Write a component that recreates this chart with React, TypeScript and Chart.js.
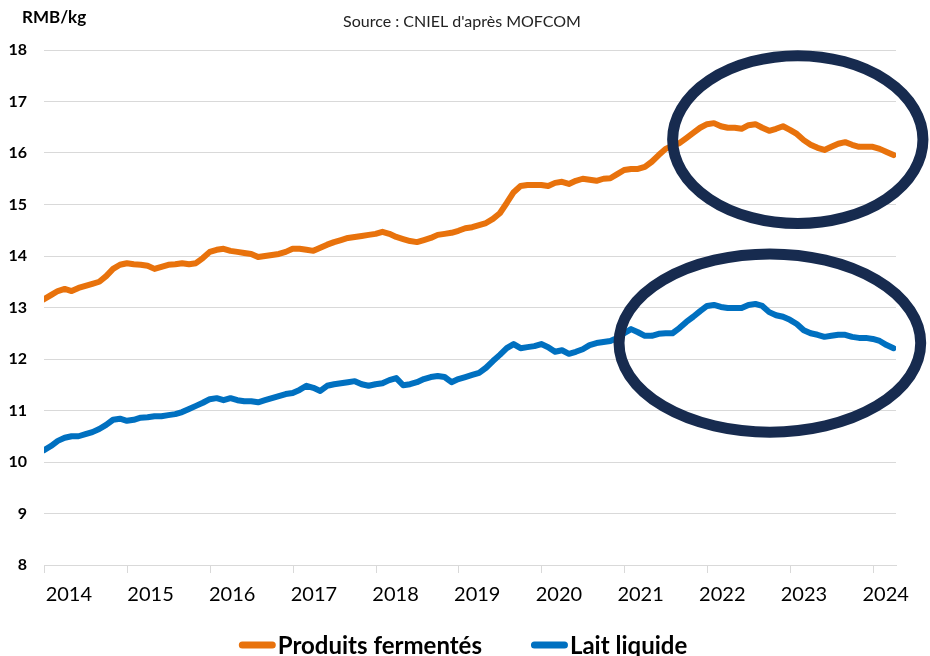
import React, { useEffect, useRef } from "react";
import { Chart, registerables } from "chart.js";

Chart.register(...registerables);

// ---- data (monthly readings, Jan 2014 .. Apr 2024) ----
const START_YEAR = 2014;
const YEAR_LABELS = ["2014", "2015", "2016", "2017", "2018", "2019", "2020", "2021", "2022", "2023", "2024"];

const PRODUITS_FERMENTES = [
  13.16, 13.24, 13.32, 13.36, 13.32, 13.38, 13.42, 13.46, 13.5, 13.61, 13.75, 13.83,
  13.86, 13.84, 13.83, 13.81, 13.75, 13.79, 13.83, 13.84, 13.86, 13.84, 13.86, 13.96,
  14.08, 14.12, 14.14, 14.1, 14.08, 14.06, 14.04, 13.98, 14.0, 14.02, 14.04, 14.08,
  14.14, 14.14, 14.12, 14.1, 14.16, 14.22, 14.27, 14.31, 14.35, 14.37, 14.39, 14.41,
  14.43, 14.47, 14.43, 14.37, 14.33, 14.29, 14.27, 14.31, 14.35, 14.41, 14.43, 14.45,
  14.49, 14.54, 14.56, 14.6, 14.64, 14.72, 14.83, 15.03, 15.24, 15.36, 15.38, 15.38,
  15.38, 15.36, 15.42, 15.44, 15.4, 15.46, 15.5, 15.48, 15.46, 15.5, 15.51, 15.59,
  15.67, 15.69, 15.69, 15.73, 15.83, 15.96, 16.08, 16.14, 16.19, 16.29, 16.39, 16.49,
  16.56, 16.58, 16.52, 16.49, 16.49, 16.47, 16.54, 16.56, 16.49, 16.43, 16.47, 16.52,
  16.45, 16.37, 16.25, 16.16, 16.1, 16.06, 16.12, 16.18, 16.21, 16.16, 16.12, 16.12,
  16.12, 16.08, 16.02, 15.96,
];

const LAIT_LIQUIDE = [
  10.23, 10.31, 10.41, 10.47, 10.5, 10.5, 10.54, 10.58, 10.64, 10.72, 10.82, 10.84,
  10.8, 10.82, 10.86, 10.87, 10.89, 10.89, 10.91, 10.93, 10.97, 11.03, 11.09, 11.15,
  11.22, 11.24, 11.2, 11.24, 11.2, 11.18, 11.18, 11.16, 11.2, 11.24, 11.28, 11.32,
  11.34, 11.4, 11.48, 11.44, 11.38, 11.48, 11.51, 11.53, 11.55, 11.57, 11.51, 11.48,
  11.51, 11.53, 11.59, 11.63, 11.49, 11.51, 11.55, 11.61, 11.65, 11.67, 11.65, 11.55,
  11.61, 11.65, 11.69, 11.73, 11.83, 11.96, 12.08, 12.21, 12.29, 12.21, 12.23, 12.25,
  12.29, 12.23, 12.14, 12.17, 12.1, 12.14, 12.19, 12.27, 12.31, 12.33, 12.35, 12.41,
  12.5, 12.58, 12.52, 12.45, 12.45, 12.49, 12.5, 12.5, 12.6, 12.72, 12.82, 12.93,
  13.03, 13.05, 13.01, 12.99, 12.99, 12.99, 13.05, 13.07, 13.03, 12.91, 12.85, 12.82,
  12.76, 12.68, 12.56, 12.5, 12.47, 12.43, 12.45, 12.47, 12.47, 12.43, 12.41, 12.41,
  12.39, 12.35, 12.27, 12.21,
];

// highlight ellipses in data units: [centerYear, centerValue, radiusYears, radiusValue]
const ELLIPSE_TOP = [2023.095, 16.26, 1.51, 1.63];
const ELLIPSE_BOTTOM = [2022.758, 12.31, 1.82, 1.73];

const SERIES_NAMES = ["Produits fermentés", "Lait liquide"];
const SOURCE_TEXT = "Source : CNIEL d'après MOFCOM";
const UNIT_TEXT = "RMB/kg";

const ORANGE = "#E8720C";
const BLUE = "#0070C0";
const NAVY = "#172B4F";
const GRID = "#d9d9d9";
const FONT = "Lato, 'Open Sans', sans-serif";

const toPoints = (arr: number[]) => arr.map((v, i) => ({ x: START_YEAR + i / 12, y: v }));

const decorPlugin = {
  id: "decor",
  afterDraw(chart: any) {
    const { ctx, chartArea, scales } = chart;
    const xs = scales.x;
    const ys = scales.y;
    ctx.save();
    // x-axis tick marks at each year boundary
    ctx.strokeStyle = GRID;
    ctx.lineWidth = 1;
    YEAR_LABELS.forEach((_, k) => {
      const px = Math.round(xs.getPixelForValue(START_YEAR + k)) + 0.5;
      ctx.beginPath();
      ctx.moveTo(px, chartArea.bottom);
      ctx.lineTo(px, chartArea.bottom + 8);
      ctx.stroke();
    });
    // highlight ellipses
    ctx.strokeStyle = NAVY;
    ctx.lineWidth = 11;
    [ELLIPSE_TOP, ELLIPSE_BOTTOM].forEach(([cx, cy, rx, ry]) => {
      const pcx = xs.getPixelForValue(cx);
      const pcy = ys.getPixelForValue(cy);
      const prx = Math.abs(xs.getPixelForValue(cx + rx) - pcx);
      const pry = Math.abs(ys.getPixelForValue(cy + ry) - pcy);
      ctx.beginPath();
      ctx.ellipse(pcx, pcy, prx, pry, 0, 0, Math.PI * 2);
      ctx.stroke();
    });
    // unit + source texts
    ctx.fillStyle = "#000";
    ctx.textBaseline = "middle";
    ctx.textAlign = "left";
    ctx.font = `bold 17px ${FONT}`;
    ctx.fillText(UNIT_TEXT, 22, 18);
    ctx.font = `16px ${FONT}`;
    ctx.fillStyle = "#222";
    ctx.textAlign = "center";
    ctx.fillText(SOURCE_TEXT, 462, 22);

    // legend (line sample + bold label, centred under the chart)
    const boxW = 37, boxH = 7, gap = 2, itemGap = 49, legendY = 645, centerX = 463;
    ctx.font = `bold 24px ${FONT}`;
    const items = chart.data.datasets.map((d: any) => ({
      color: d.borderColor,
      text: d.label,
      w: ctx.measureText(d.label).width,
    }));
    const total = items.reduce((s: number, it: any) => s + boxW + gap + it.w, 0) + itemGap * (items.length - 1);
    let x = centerX - total / 2;
    ctx.textAlign = "left";
    ctx.textBaseline = "middle";
    items.forEach((it: any) => {
      ctx.fillStyle = it.color;
      ctx.beginPath();
      (ctx as any).roundRect(x, legendY - boxH / 2, boxW, boxH, boxH / 2);
      ctx.fill();
      x += boxW + gap;
      ctx.fillStyle = "#000";
      ctx.fillText(it.text, x, legendY + 1);
      x += it.w + itemGap;
    });
    ctx.restore();
  },
};

export default function App() {
  const ref = useRef<HTMLCanvasElement | null>(null);
  useEffect(() => {
    if (!ref.current) return;
    const chart = new Chart(ref.current, {
      type: "line",
      data: {
        datasets: [
          {
            label: SERIES_NAMES[0],
            data: toPoints(PRODUITS_FERMENTES),
            borderColor: ORANGE,
            backgroundColor: ORANGE,
            borderWidth: 6,
            pointRadius: 0,
            tension: 0,
            borderCapStyle: "round",
            borderJoinStyle: "round",
          },
          {
            label: SERIES_NAMES[1],
            data: toPoints(LAIT_LIQUIDE),
            borderColor: BLUE,
            backgroundColor: BLUE,
            borderWidth: 6,
            pointRadius: 0,
            tension: 0,
            borderCapStyle: "round",
            borderJoinStyle: "round",
          },
        ],
      },
      options: {
        responsive: false,
        animation: false,
        layout: { padding: { top: 50, left: 8, right: 34, bottom: 0 } },
        scales: {
          x: {
            type: "linear",
            min: 2014,
            max: 2024.28,
            afterBuildTicks: (scale: any) => {
              scale.ticks = YEAR_LABELS.map((_, k) => ({ value: START_YEAR + k + 0.3 - 0.0145 * k }));
            },
            afterFit: (scale: any) => {
              scale.paddingLeft = 0;
              scale.paddingRight = 0;
              scale.height = 91;
            },
            grid: { display: true, drawOnChartArea: false, drawTicks: true, tickLength: 8, color: "rgba(0,0,0,0)" },
            border: { display: true, color: GRID, width: 1 },
            ticks: {
              autoSkip: false,
              maxRotation: 0,
              padding: 12,
              color: "#000",
              font: { family: FONT, size: 20, lineHeight: 1 },
              callback: (_v: any, i: number) => YEAR_LABELS[i],
            },
          },
          y: {
            min: 8,
            max: 18,
            afterFit: (scale: any) => {
              scale.width = 36;
            },
            ticks: { stepSize: 1, padding: 17, color: "#000", font: { family: FONT, size: 16, weight: "bold" } },
            grid: { color: GRID, lineWidth: 1, drawTicks: false },
            border: { display: false },
          },
        },
        plugins: {
          tooltip: { enabled: false },
          title: { display: false },
          legend: { display: false },
        },
      },
      plugins: [decorPlugin],
    } as any);
    return () => chart.destroy();
  }, []);
  return (
    <div style={{ position: "absolute", left: 0, top: 0, width: 930, height: 656, overflow: "hidden", background: "#fff" }}>
      <canvas ref={ref} width={930} height={656} style={{ display: "block" }} />
    </div>
  );
}
